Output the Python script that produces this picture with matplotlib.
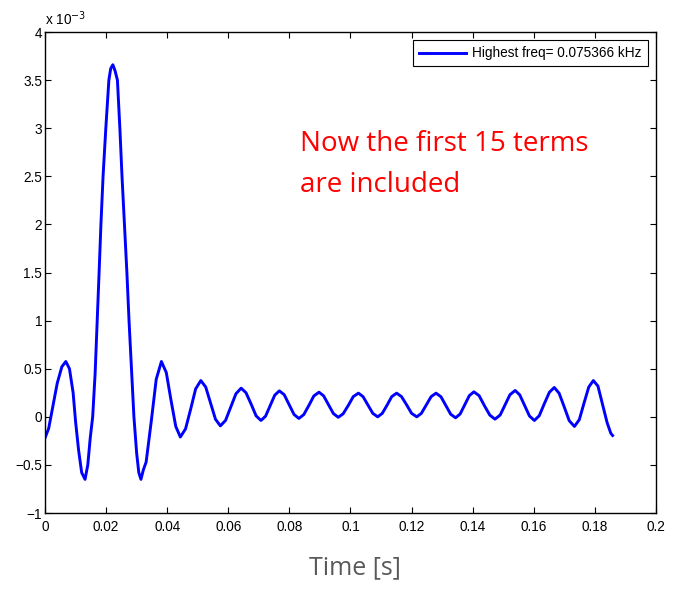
import numpy as np
import matplotlib.pyplot as plt

# time [s] and signal [x 1e-3]
t = [0.0000, 0.0012, 0.0025, 0.0040, 0.0055, 0.0068, 0.0080, 0.0092, 0.0100, 0.0110,
     0.0120, 0.0131, 0.0140, 0.0148, 0.0156, 0.0164, 0.0171, 0.0177, 0.0183, 0.0190,
     0.0199, 0.0209, 0.0215, 0.0222, 0.0229, 0.0237, 0.0245, 0.0252, 0.0260, 0.0268,
     0.0275, 0.0283, 0.0291, 0.0300, 0.0307, 0.0314, 0.0322, 0.0331, 0.0348, 0.0364,
     0.0381, 0.0397, 0.0412, 0.0428, 0.0443, 0.0460, 0.0477, 0.0493, 0.0510, 0.0526,
     0.0542, 0.0558, 0.0574, 0.0591, 0.0608, 0.0625, 0.0642, 0.0658, 0.0675, 0.0691,
     0.0707, 0.0722, 0.0737, 0.0752, 0.0767, 0.0783, 0.0799, 0.0815, 0.0831, 0.0847,
     0.0864, 0.0880, 0.0897, 0.0912, 0.0928, 0.0944, 0.0960, 0.0976, 0.0993, 0.1009,
     0.1026, 0.1041, 0.1057, 0.1073, 0.1089, 0.1104, 0.1120, 0.1135, 0.1151, 0.1167,
     0.1184, 0.1200, 0.1217, 0.1232, 0.1248, 0.1264, 0.1280, 0.1296, 0.1312, 0.1328,
     0.1344, 0.1359, 0.1374, 0.1389, 0.1404, 0.1421, 0.1438, 0.1456, 0.1473, 0.1490,
     0.1506, 0.1522, 0.1539, 0.1554, 0.1570, 0.1586, 0.1602, 0.1618, 0.1634, 0.1651,
     0.1667, 0.1683, 0.1700, 0.1716, 0.1733, 0.1749, 0.1764, 0.1780, 0.1795, 0.1810,
     0.1825, 0.1840, 0.1852, 0.1858]
signal = [-0.22, -0.12, 0.10, 0.35, 0.52, 0.575, 0.50, 0.25, -0.05, -0.35,
          -0.58, -0.65, -0.50, -0.22, 0.00, 0.45, 1.00, 1.50, 2.00, 2.50,
          3.00, 3.50, 3.62, 3.66, 3.60, 3.50, 3.00, 2.50, 2.00, 1.50,
          1.00, 0.50, 0.00, -0.38, -0.58, -0.65, -0.55, -0.47, -0.04, 0.39,
          0.575, 0.46, 0.18, -0.10, -0.21, -0.125, 0.083, 0.29, 0.377, 0.31,
          0.142, -0.025, -0.094, -0.037, 0.102, 0.24, 0.298, 0.25, 0.13, 0.01,
          -0.038, 0.007, 0.116, 0.225, 0.27, 0.23, 0.127, 0.025, -0.017, 0.023,
          0.12, 0.217, 0.256, 0.218, 0.126, 0.034, -0.005, 0.032, 0.12, 0.21,
          0.246, 0.21, 0.123, 0.036, 0.0, 0.036, 0.123, 0.21, 0.246, 0.21,
          0.123, 0.036, 0.0, 0.036, 0.123, 0.21, 0.246, 0.209, 0.118, 0.027,
          -0.01, 0.03, 0.125, 0.22, 0.26, 0.22, 0.118, 0.018, -0.024, 0.019,
          0.125, 0.23, 0.274, 0.228, 0.118, 0.008, -0.038, 0.012, 0.133, 0.255,
          0.305, 0.245, 0.10, -0.04, -0.10, -0.03, 0.138, 0.31, 0.377, 0.32,
          0.13, -0.06, -0.17, -0.194]

x_ticks = np.arange(0, 0.2001, 0.02)
x_labels = ['0', '0.02', '0.04', '0.06', '0.08', '0.1', '0.12', '0.14', '0.16', '0.18', '0.2']
y_ticks = np.arange(-1, 4.01, 0.5)
y_labels = ['\u22121', '\u22120.5', '0', '0.5', '1', '1.5', '2', '2.5', '3', '3.5', '4']

plt.rcParams['font.family'] = ['Liberation Sans', 'DejaVu Sans']

fig = plt.figure(figsize=(6.73, 5.92), dpi=100)
ax = fig.add_axes([0.0669, 0.1334, 0.9078, 0.8125])

ax.plot(t, signal, color='#0000ff', linewidth=2.1, label='Highest freq= 0.075366 kHz')

ax.set_xlim(0, 0.2)
ax.set_ylim(-1, 4)
ax.set_xticks(x_ticks)
ax.set_xticklabels(x_labels)
ax.set_yticks(y_ticks)
ax.set_yticklabels(y_labels)
ax.tick_params(direction='in', top=True, right=True, length=4, width=0.8,
               labelsize=9.8)
ax.tick_params(axis='x', pad=5)
ax.tick_params(axis='y', pad=2)
for s in ax.spines.values():
    s.set_linewidth(1.0)

ax.text(0.0, 1.008, 'x 10$^{-3}$', transform=ax.transAxes, fontsize=9.8,
        ha='left', va='bottom')

leg = ax.legend(loc='upper right', fontsize=9.8, frameon=True, fancybox=False,
                edgecolor='black', framealpha=1, borderpad=0.45,
                handlelength=3.4, handletextpad=0.5, borderaxespad=0.6)
leg.get_frame().set_linewidth(0.8)

note_font = ['Open Sans', 'DejaVu Sans']
fig.text(300 / 673, 1 - 151 / 592, 'Now the first 15 terms', color='red',
         fontsize=20, family=note_font, ha='left', va='baseline')
fig.text(300 / 673, 1 - 192 / 592, 'are included', color='red',
         fontsize=20, family=note_font, ha='left', va='baseline')

fig.text(355 / 673, 1 - 568 / 592, 'Time [s]', color='#595959', fontsize=18,
         family=note_font, ha='center', va='center')

fig.savefig('out.png', dpi=100)
